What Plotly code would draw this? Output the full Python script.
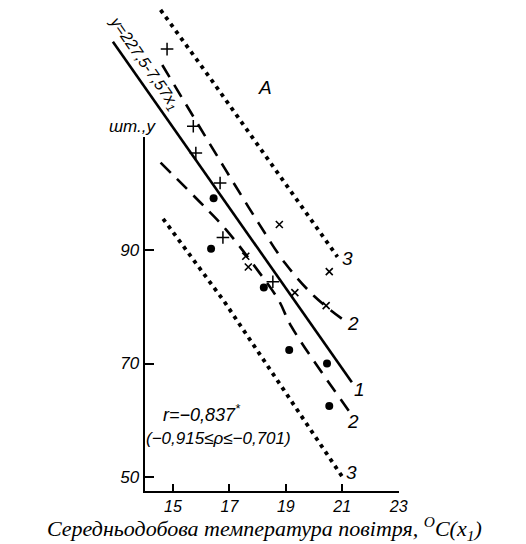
import plotly.graph_objects as go

W, H = 526, 544

# ---------------- data ----------------
x_ticks = [15, 17, 19, 21, 23]
y_ticks = [50, 70, 90, 110]
y_ticktext = ["50", "70", "90", ""]

plus_x = [14.79, 15.72, 15.81, 16.67, 16.77, 18.54]
plus_y = [125.4, 111.8, 107.1, 101.8, 92.2, 84.4]

cross_x = [17.58, 17.67, 18.77, 19.32, 20.43, 20.54]
cross_y = [88.9, 87.0, 94.5, 82.5, 80.2, 86.2]

dot_x = [16.35, 16.44, 18.22, 19.12, 20.46, 20.54]
dot_y = [90.2, 99.1, 83.4, 72.4, 70.0, 62.5]

# regression line 1: y = 227.5 - 7.57 x1 (as drawn)
line1_x = [12.87, 21.34]
line1_y = [126.7, 66.7]

# upper dashed band (2)
up2_x = [14.62, 16.44, 17.09, 18.04, 18.97, 20.02, 21.12]
up2_y = [122.6, 107.6, 102.3, 94.7, 87.7, 81.8, 77.4]

# lower dashed band (2)
lo2_x = [14.56, 16.18, 16.88, 17.99, 18.74, 19.20, 21.30]
lo2_y = [105.4, 97.3, 93.6, 86.5, 81.2, 76.5, 61.2]

# dotted limits (3)
up3_x = [14.56, 16.36, 20.83]
up3_y = [132.3, 120.0, 88.8]
lo3_x = [14.65, 16.82, 21.00]
lo3_y = [95.5, 80.9, 50.05]

# ---------------- pixel mapping of the drawing area ----------------
X15_PX, XS = 176.0, 28.7     # pixel of x=15, pixels per unit
Y90_PX, YS = 250.0, 5.675    # pixel of y=90, pixels per unit


def xpx_to_val(px):
    return 15 + (px - X15_PX) / XS


def ypx_to_val(py):
    return 90 - (py - Y90_PX) / YS


def xval_to_px(v):
    return X15_PX + (v - 15) * XS


def yval_to_px(v):
    return Y90_PX - (v - 90) * YS


full_xr = [xpx_to_val(0), xpx_to_val(W)]
full_yr = [ypx_to_val(H), ypx_to_val(0)]

box_x = [14.0, 23.0]
box_y = [47.6, 110.0]
dom_x = [xval_to_px(box_x[0]) / W, xval_to_px(box_x[1]) / W]
dom_y = [1 - yval_to_px(box_y[0]) / H, 1 - yval_to_px(box_y[1]) / H]

NARROW = "Liberation Sans Narrow, Liberation Sans, Arial, sans-serif"
SERIF = "Liberation Serif, Times New Roman, serif"

fig = go.Figure()

# axis-frame subplot (empty trace so it renders)
fig.add_trace(go.Scatter(x=[None], y=[None], xaxis="x2", yaxis="y2",
                         showlegend=False, hoverinfo="skip"))

fig.add_trace(go.Scatter(x=up3_x, y=up3_y, mode="lines",
                         line=dict(color="black", width=3.8, dash="3.8px,4.8px"),
                         showlegend=False))
fig.add_trace(go.Scatter(x=lo3_x, y=lo3_y, mode="lines",
                         line=dict(color="black", width=3.8, dash="3.8px,4.8px"),
                         showlegend=False))
fig.add_trace(go.Scatter(x=up2_x, y=up2_y, mode="lines", line_shape="spline",
                         line=dict(color="black", width=2.6, dash="14px,9px"),
                         showlegend=False))
fig.add_trace(go.Scatter(x=lo2_x, y=lo2_y, mode="lines", line_shape="spline",
                         line=dict(color="black", width=2.6, dash="14px,9px"),
                         showlegend=False))
fig.add_trace(go.Scatter(x=line1_x, y=line1_y, mode="lines",
                         line=dict(color="black", width=2.6),
                         showlegend=False))

fig.add_trace(go.Scatter(x=plus_x, y=plus_y, mode="markers",
                         marker=dict(symbol="cross-thin", size=9, color="black",
                                     line=dict(color="black", width=1.5)),
                         showlegend=False))
fig.add_trace(go.Scatter(x=cross_x, y=cross_y, mode="markers",
                         marker=dict(symbol="x-thin", size=7, color="black",
                                     line=dict(color="black", width=1.6)),
                         showlegend=False))
fig.add_trace(go.Scatter(x=dot_x, y=dot_y, mode="markers",
                         marker=dict(symbol="circle", size=8, color="black"),
                         showlegend=False))

tickfont = dict(family=NARROW, size=16, color="black", style="italic")

fig.update_layout(
    width=W, height=H, autosize=False,
    margin=dict(l=0, r=0, t=0, b=0, pad=0),
    paper_bgcolor="white", plot_bgcolor="rgba(0,0,0,0)",
    xaxis=dict(range=full_xr, domain=[0, 1], visible=False, fixedrange=True),
    yaxis=dict(range=full_yr, domain=[0, 1], visible=False, fixedrange=True),
    xaxis2=dict(range=box_x, domain=dom_x, anchor="y2", showline=True,
                linecolor="black", linewidth=2.2, ticks="inside", ticklen=7,
                tickwidth=1.6, tickcolor="black", tickvals=x_ticks,
                showgrid=False, zeroline=False, tickfont=tickfont),
    yaxis2=dict(range=box_y, domain=dom_y, anchor="x2", showline=True,
                linecolor="black", linewidth=2.2, ticks="inside", ticklen=9,
                tickwidth=1.6, tickcolor="black", tickvals=y_ticks,
                ticktext=y_ticktext, showgrid=False, zeroline=False,
                tickfont=dict(family=NARROW, size=17, color="black",
                              style="italic")),
    showlegend=False,
)


def note(text, px, py, size=19, family=NARROW, angle=0, style="italic"):
    fig.add_annotation(text=text, x=px / W, y=1 - py / H, xref="paper",
                       yref="paper", showarrow=False, textangle=angle,
                       xanchor="center", yanchor="middle",
                       font=dict(family=family, size=size, color="black",
                                 style=style))


note("A", 270, 88)
note("шт.,y", 135, 127, size=17)
note("y=227,5-7,57x<sub>1</sub>", 147, 63, size=16, angle=55)
note("3", 354, 258)
note("2", 359, 323)
note("1", 366, 389)
note("2", 359, 421)
note("3", 358, 472)
note("r=−0,837<sup>*</sup>", 206, 413, size=18)
note("(−0,915≤ρ≤−0,701)", 222, 438, size=17)
note("Середньодобова температура повітря, <sup>O</sup>C(x<sub>1</sub>)",
     269, 528, size=22, family=SERIF)

fig.write_html("out.html")
